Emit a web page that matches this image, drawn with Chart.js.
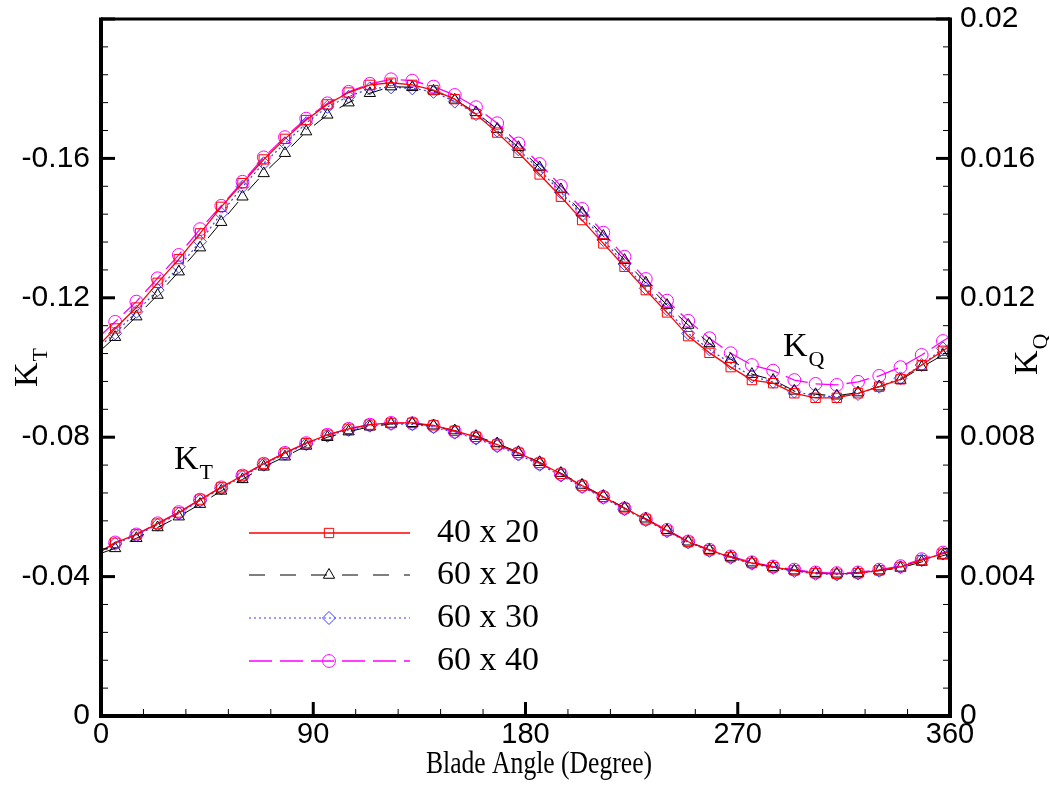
<!DOCTYPE html>
<html>
<head>
<meta charset="utf-8">
<title>KT e KQ x Blade Angle</title>
<script src="https://cdn.jsdelivr.net/npm/chart.js@4.4.1/dist/chart.umd.min.js"></script>
<style>
  body { margin: 0; background: #fff; }
  #box { width: 1049px; height: 791px; }
</style>
</head>
<body>
<div id="box"><canvas id="kChart"></canvas></div>
<script>
// Ângulos da pá (graus) - 0 e 360 só têm linha, sem marcador
const angles = [0, 6, 15, 24, 33, 42, 51, 60, 69, 78, 87, 96, 105, 114, 123, 132, 141, 150, 159, 168,
  177, 186, 195, 204, 213, 222, 231, 240, 249, 258, 267, 276, 285, 294, 303, 312, 321, 330, 339, 348, 357, 360];

// KQ (eixo da direita)
const kq4020 = [0.01070, 0.01112, 0.01172, 0.01243, 0.01311, 0.01385, 0.01461, 0.01529, 0.01597, 0.01656, 0.01710, 0.01755, 0.01789, 0.01811, 0.01817, 0.01811, 0.01796, 0.01770, 0.01727, 0.01674,
  0.01616, 0.01554, 0.01490, 0.01423, 0.01356, 0.01289, 0.01222, 0.01158, 0.01090, 0.01042, 0.01001, 0.00964, 0.00955, 0.00926, 0.00913, 0.00913, 0.00926, 0.00945, 0.00966, 0.01007, 0.01048, 0.01062];
const kq6020 = [0.01050, 0.01087, 0.01146, 0.01208, 0.01275, 0.01344, 0.01417, 0.01490, 0.01557, 0.01615, 0.01677, 0.01725, 0.01760, 0.01787, 0.01806, 0.01804, 0.01794, 0.01768, 0.01732, 0.01684,
  0.01632, 0.01574, 0.01511, 0.01444, 0.01377, 0.01308, 0.01243, 0.01179, 0.01122, 0.01069, 0.01024, 0.00981, 0.00964, 0.00933, 0.00923, 0.00919, 0.00928, 0.00945, 0.00964, 0.01001, 0.01036, 0.01048];
const kq6030 = [0.01065, 0.01098, 0.01160, 0.01222, 0.01289, 0.01361, 0.01442, 0.01519, 0.01586, 0.01643, 0.01701, 0.01748, 0.01777, 0.01801, 0.01804, 0.01801, 0.01791, 0.01763, 0.01727, 0.01680,
  0.01626, 0.01567, 0.01503, 0.01438, 0.01366, 0.01297, 0.01227, 0.01167, 0.01098, 0.01052, 0.01012, 0.00974, 0.00959, 0.00931, 0.00919, 0.00916, 0.00924, 0.00945, 0.00969, 0.01007, 0.01055, 0.01068];
const kq6040 = [0.01093, 0.01131, 0.01189, 0.01256, 0.01323, 0.01397, 0.01464, 0.01533, 0.01603, 0.01661, 0.01714, 0.01758, 0.01791, 0.01814, 0.01827, 0.01823, 0.01806, 0.01782, 0.01747, 0.01701,
  0.01643, 0.01584, 0.01521, 0.01455, 0.01387, 0.01318, 0.01254, 0.01192, 0.01134, 0.01084, 0.01041, 0.01007, 0.00991, 0.00964, 0.00953, 0.00950, 0.00959, 0.00976, 0.01001, 0.01036, 0.01076, 0.01088];

// KT (eixo da esquerda, negativo)
const kt4020 = [-0.0472, -0.0497, -0.0521, -0.0552, -0.0584, -0.0621, -0.0656, -0.0690, -0.0724, -0.0755, -0.0783, -0.0807, -0.0824, -0.0836, -0.0841, -0.0841, -0.0834, -0.0818, -0.0801, -0.0779,
  -0.0755, -0.0726, -0.0695, -0.0661, -0.0629, -0.0596, -0.0564, -0.0532, -0.0500, -0.0476, -0.0456, -0.0439, -0.0427, -0.0418, -0.0410, -0.0408, -0.0410, -0.0418, -0.0428, -0.0447, -0.0466, -0.0472];
const kt6020 = [-0.0467, -0.0481, -0.0510, -0.0541, -0.0572, -0.0608, -0.0646, -0.0679, -0.0715, -0.0744, -0.0775, -0.0800, -0.0816, -0.0830, -0.0838, -0.0840, -0.0833, -0.0819, -0.0803, -0.0782,
  -0.0757, -0.0728, -0.0697, -0.0663, -0.0631, -0.0597, -0.0566, -0.0533, -0.0500, -0.0476, -0.0456, -0.0440, -0.0427, -0.0417, -0.0410, -0.0408, -0.0410, -0.0417, -0.0425, -0.0442, -0.0460, -0.0466];
const kt6030 = [-0.0470, -0.0494, -0.0518, -0.0549, -0.0581, -0.0618, -0.0653, -0.0687, -0.0721, -0.0752, -0.0780, -0.0804, -0.0821, -0.0833, -0.0838, -0.0837, -0.0829, -0.0813, -0.0796, -0.0774,
  -0.0750, -0.0721, -0.0690, -0.0657, -0.0626, -0.0593, -0.0562, -0.0530, -0.0498, -0.0474, -0.0454, -0.0437, -0.0425, -0.0416, -0.0408, -0.0406, -0.0409, -0.0417, -0.0427, -0.0447, -0.0466, -0.0471];
const kt6040 = [-0.0473, -0.0498, -0.0521, -0.0553, -0.0585, -0.0621, -0.0656, -0.0690, -0.0724, -0.0755, -0.0783, -0.0807, -0.0824, -0.0836, -0.0841, -0.0840, -0.0832, -0.0816, -0.0800, -0.0778,
  -0.0754, -0.0725, -0.0694, -0.0660, -0.0629, -0.0596, -0.0565, -0.0534, -0.0501, -0.0477, -0.0458, -0.0441, -0.0429, -0.0420, -0.0412, -0.0410, -0.0412, -0.0420, -0.0430, -0.0450, -0.0469, -0.0475];

const gridLabels = ["40 x 20", "60 x 20", "60 x 30", "60 x 40"];
const xTickValues = [0, 90, 180, 270, 360];
const ktTickValues = [0, -0.04, -0.08, -0.12, -0.16];
const kqTickValues = [0, 0.004, 0.008, 0.012, 0.016, 0.02];

const fontSans = '"Liberation Sans", Arial, sans-serif';
const fontSerif = '"Liberation Serif", "Times New Roman", serif';

// estilo de cada malha
const estilos = [
  { color: '#ff0000', dash: [], width: 1.3, marker: 'rect', r: 6.6 },
  { color: '#000000', dash: [16, 15], width: 1, marker: 'triangle', r: 6.5 },
  { color: '#3c3cff', dash: [2, 3], width: 1.2, marker: 'rectRot', r: 6.5 },
  { color: '#ff00ff', dash: [23, 8], width: 1.3, marker: 'circle', r: 6.4 }
];

function toPoints(values) {
  return angles.map((a, i) => ({ x: a, y: values[i] }));
}

function makeDataset(label, values, axis, s) {
  return {
    label: label,
    data: toPoints(values),
    yAxisID: axis,
    borderColor: s.color,
    borderWidth: s.width,
    borderDash: s.dash,
    pointStyle: s.marker,
    pointRadius: (ctx) => (ctx.dataIndex === 0 || ctx.dataIndex === angles.length - 1) ? 0 : s.r,
    pointBorderColor: s.color,
    pointBackgroundColor: 'rgba(0,0,0,0)',
    pointBorderWidth: 1,
    fill: false,
    tension: 0
  };
}

const ktSeries = [kt4020, kt6020, kt6030, kt6040];
const kqSeries = [kq4020, kq6020, kq6030, kq6040];
const datasets = [];
gridLabels.forEach((lab, i) => {
  datasets.push(makeDataset(lab, kqSeries[i], 'yQ', estilos[i]));
  datasets.push(makeDataset(lab, ktSeries[i], 'yT', estilos[i]));
});

// moldura, ticks para dentro, legenda e textos com subscrito
const moldura = {
  id: 'moldura',
  afterDraw(chart) {
    const { ctx, chartArea: a, scales } = chart;
    ctx.save();
    ctx.strokeStyle = '#000';
    ctx.setLineDash([]);

    function seg(x1, y1, x2, y2, w) {
      ctx.lineWidth = w;
      ctx.beginPath();
      ctx.moveTo(x1, y1);
      ctx.lineTo(x2, y2);
      ctx.stroke();
    }

    // ticks menores e maiores
    for (let v = 0; v <= 360.001; v += 18) {
      const x = scales.x.getPixelForValue(v);
      const major = v % 90 === 0;
      seg(x, a.bottom, x, a.bottom - (major ? 14 : 7), major ? 3 : 1);
    }
    for (let k = 0; k <= 25; k++) {
      const major = k % 5 === 0;
      const y1 = scales.yT.getPixelForValue(-0.008 * k);
      seg(a.left, y1, a.left + (major ? 14 : 7), y1, major ? 3 : 1);
      const y2 = scales.yQ.getPixelForValue(0.0008 * k);
      seg(a.right, y2, a.right - (major ? 14 : 7), y2, major ? 3 : 1);
    }

    // moldura
    seg(a.left, a.top, a.right, a.top, 3);
    seg(a.left, a.top - 1.5, a.left, a.bottom + 2, 4);
    seg(a.right, a.top - 1.5, a.right, a.bottom + 2, 4);
    seg(a.left - 2, a.bottom, a.right + 2, a.bottom, 4);

    // legenda
    const rows = [533, 575, 618, 661];
    estilos.forEach((s, i) => {
      const y = rows[i];
      ctx.strokeStyle = s.color;
      ctx.lineWidth = s.width;
      ctx.setLineDash(s.dash);
      ctx.beginPath();
      ctx.moveTo(249, y);
      ctx.lineTo(410, y);
      ctx.stroke();
      ctx.setLineDash([]);
      ctx.lineWidth = 1;
      ctx.fillStyle = 'rgba(0,0,0,0)';
      Chart.helpers.drawPoint(ctx, { pointStyle: s.marker, radius: s.r, rotation: 0, borderWidth: 1 }, 329, y);
      ctx.fillStyle = '#000';
      ctx.font = '34px ' + fontSerif;
      ctx.textBaseline = 'middle';
      ctx.textAlign = 'left';
      ctx.fillText(gridLabels[i], 437, y);
    });

    // K com subscrito
    function kText(x, y, sub, rot) {
      ctx.save();
      ctx.translate(x, y);
      ctx.rotate(rot);
      ctx.fillStyle = '#000';
      ctx.textBaseline = 'alphabetic';
      ctx.textAlign = 'left';
      ctx.font = '34px ' + fontSerif;
      const w = ctx.measureText('K').width;
      ctx.fillText('K', 0, 0);
      ctx.font = '22px ' + fontSerif;
      ctx.fillText(sub, w + 1, 10);
      ctx.restore();
    }
    kText(174, 469, 'T', 0);
    kText(783, 356, 'Q', 0);
    kText(37, 387, 'T', -Math.PI / 2);
    kText(1037, 375, 'Q', -Math.PI / 2);

    // título do eixo x (fonte um pouco estreita, como na figura)
    ctx.save();
    ctx.translate(539, 773);
    ctx.scale(0.8, 1);
    ctx.fillStyle = '#000';
    ctx.font = '32px ' + fontSerif;
    ctx.textAlign = 'center';
    ctx.textBaseline = 'alphabetic';
    ctx.fillText('Blade Angle (Degree)', 0, 0);
    ctx.restore();
    ctx.restore();
  }
};

const fmt = (v) => String(+v.toFixed(4));

// eixo y sem folga extra do Chart.js (a área do gráfico fica onde a figura tem)
function fixY(width) {
  return (s) => {
    s.width = width;
    s.paddingTop = 0;
    s.paddingBottom = 0;
  };
}

const ctxK = document.getElementById('kChart').getContext('2d');
const kChart = new Chart(ctxK, {
  type: 'line',
  data: { datasets: datasets },
  options: {
    responsive: true,
    maintainAspectRatio: false,
    animation: false,
    layout: { padding: { top: 19, left: 0, right: 0, bottom: 0 } },
    plugins: {
      legend: { display: false },
      tooltip: { enabled: false }
    },
    scales: {
      x: {
        type: 'linear',
        position: 'bottom',
        min: 0,
        max: 360,
        grid: { display: false, drawTicks: false },
        border: { display: false },
        afterBuildTicks: (s) => { s.ticks = xTickValues.map(v => ({ value: v })); },
        afterFit: (s) => { s.height = 75; s.paddingLeft = 0; s.paddingRight = 0; },
        ticks: { color: '#000', font: { family: fontSans, size: 29 }, padding: 2, maxRotation: 0, autoSkip: false, callback: fmt }
      },
      yT: {
        type: 'linear',
        position: 'left',
        min: -0.2,
        max: 0,
        reverse: true,
        grid: { display: false, drawTicks: false },
        border: { display: false },
        afterBuildTicks: (s) => { s.ticks = ktTickValues.map(v => ({ value: v })); },
        afterFit: fixY(101),
        ticks: { color: '#000', font: { family: fontSans, size: 30 }, padding: 11, autoSkip: false, callback: fmt }
      },
      yQ: {
        type: 'linear',
        position: 'right',
        min: 0,
        max: 0.02,
        grid: { display: false, drawTicks: false },
        border: { display: false },
        afterBuildTicks: (s) => { s.ticks = kqTickValues.map(v => ({ value: v })); },
        afterFit: fixY(99),
        ticks: { color: '#000', font: { family: fontSans, size: 30 }, padding: 10, autoSkip: false, callback: fmt }
      }
    }
  },
  plugins: [moldura]
});
</script>
</body>
</html>
